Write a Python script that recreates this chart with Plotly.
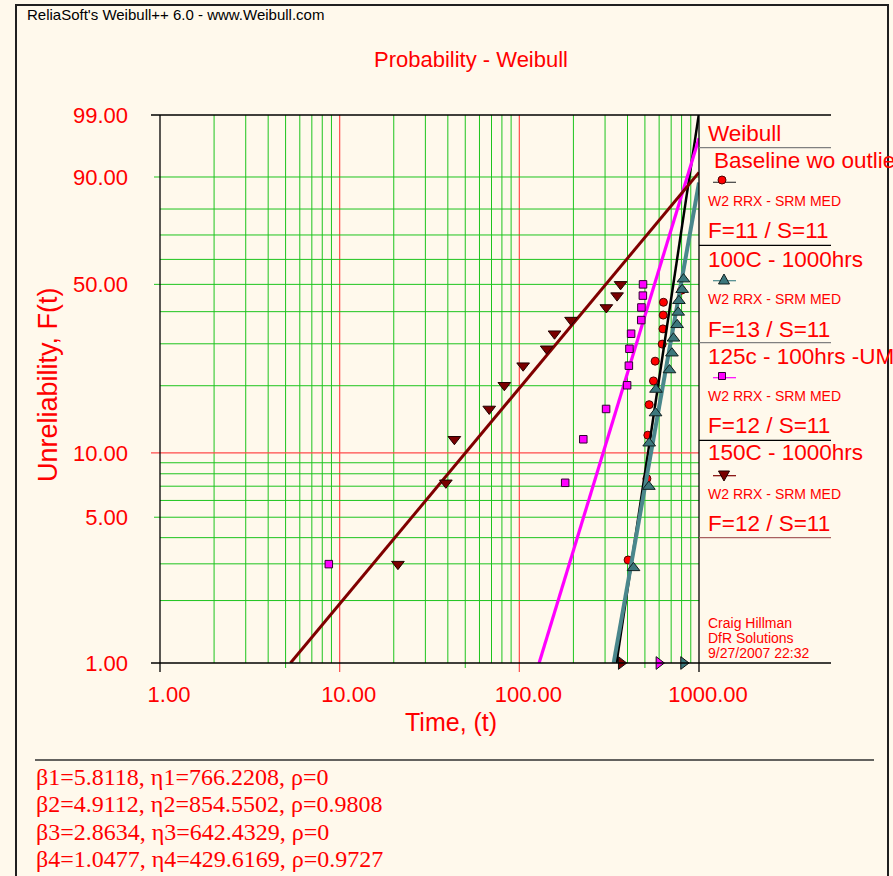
import math
import plotly.graph_objects as go

# ---------------- data ----------------
# Weibull fit parameters (one per data set) and correlation coefficients
betas = [5.8118, 4.9112, 2.8634, 1.0477]
etas = [766.2208, 854.5502, 642.4329, 429.6169]
rhos = [0, 0.9808, 0, 0.9727]

# failure times (hours) with their median-rank unreliability (%)
baseline_t = [403, 513, 519, 528, 558, 570, 624, 630, 632, 634, 800]
baseline_F = [3.13, 7.59, 12.05, 16.52, 20.98, 25.45, 29.91, 34.38, 38.84, 43.30, 47.77]

c100_t = [432, 526, 528, 573, 576, 685, 707, 721, 756, 766, 773, 806, 820]
c100_F = [2.87, 6.97, 11.07, 15.16, 19.26, 23.36, 27.46, 31.56, 35.66, 39.75, 43.85, 47.95, 52.05]

c125_t = [8.7, 180, 227, 304, 398, 407, 410, 419, 477, 478, 487, 488]
c125_F = [2.99, 7.26, 11.54, 15.81, 20.09, 24.36, 28.63, 32.91, 37.18, 41.45, 45.73, 50.00]

c150_t = [21.1, 39, 43.5, 68, 82.5, 105, 142, 157, 194, 305, 350, 366]
c150_F = [2.99, 7.26, 11.54, 15.81, 20.09, 24.36, 28.63, 32.91, 37.18, 41.45, 45.73, 50.00]

# suspension times (drawn on the 1% line): 100C, 125c, 150C
susp_t = [820, 598, 369]

# legend / annotation texts
set_titles = ["Baseline wo outliers", "100C - 1000hrs", "125c - 100hrs -UM", "150C - 1000hrs"]
set_subtitle = "W2 RRX - SRM MED"
set_counts = ["F=11 / S=11", "F=13 / S=11", "F=12 / S=11", "F=12 / S=11"]

# axis ticks and grid
x_tick_vals = [1, 10, 100, 1000]
x_tick_text = ["1.00", "10.00", "100.00", "1000.00"]
x_grid_green = [2, 3, 4, 5, 6, 7, 8, 9, 20, 30, 40, 50, 60, 70, 80, 90,
                200, 300, 400, 500, 600, 700, 800, 900]
x_grid_red = [10, 100]
x_short_ticks = [5, 50, 500]

y_tick_vals = [1, 5, 10, 50, 90, 99]
y_tick_text = ["1.00", "5.00", "10.00", "50.00", "90.00", "99.00"]
y_grid_green = [2, 3, 4, 5, 6, 7, 8, 9, 20, 30, 40, 50, 60, 70, 80, 90]
y_grid_red = [10]
y_short_ticks = [5, 50, 90]

# ---------------- styling ----------------
BG = "#FFF9EC"
RED = "#FF0000"
GREEN = "#1EC41E"
GRIDRED = "#FF4A4A"
TEAL_LINE = "#4A878C"
TEAL_FILL = "#3C777C"
MAGENTA = "#FF00FF"
DARKRED = "#800000"
SANS = "Liberation Sans, Arial, sans-serif"
SERIF = "Liberation Serif, Times New Roman, serif"

W_FIG, H_FIG = 893, 876
PL, PR, PT, PB = 160, 699, 115, 663  # plot area in pixels


def px(x):
    return (x - PL) / (PR - PL)


def py(y):
    return (PB - y) / (PB - PT)


def weib(f_pct):
    """Weibull probability scale: ln(-ln(1-F))."""
    return math.log(-math.log(1.0 - f_pct / 100.0))


W_LO, W_HI = weib(1), weib(99)


def fit_line(beta, eta):
    t_lo = eta * (-math.log(0.99)) ** (1.0 / beta)
    t_hi = min(1000.0, eta * (-math.log(0.01)) ** (1.0 / beta))
    ts = [t_lo, t_hi]
    return ts, [beta * math.log(t / eta) for t in ts]


fig = go.Figure()


def add_points(ts, fs, symbol, size, fill, edge):
    fig.add_trace(go.Scatter(
        x=ts, y=[weib(f) for f in fs], mode="markers", cliponaxis=False,
        marker=dict(symbol=symbol, size=size, color=fill, line=dict(color=edge, width=1)),
        showlegend=False, hoverinfo="skip"))


def add_fit(i, color, width):
    xs, ys = fit_line(betas[i], etas[i])
    fig.add_trace(go.Scatter(x=xs, y=ys, mode="lines", line=dict(color=color, width=width),
                             showlegend=False, hoverinfo="skip"))


add_points(baseline_t, baseline_F, "circle", 8, RED, "#500000")
add_fit(0, "#000000", 2.5)
add_fit(1, TEAL_LINE, 4)
add_points(c100_t, c100_F, "triangle-up", 11, TEAL_FILL, "#102020")
add_fit(2, MAGENTA, 3.2)
add_points(c125_t, c125_F, "square", 7.5, MAGENTA, "#300030")
add_fit(3, DARKRED, 3)
add_points(c150_t, c150_F, "triangle-down", 11, "#7A0000", "#200000")

# suspensions on the bottom line
for t, fill in zip(susp_t, [TEAL_FILL, MAGENTA, "#7A0000"]):
    fig.add_trace(go.Scatter(
        x=[t], y=[W_LO], mode="markers", cliponaxis=False,
        marker=dict(symbol="triangle-right", size=11, color=fill, line=dict(color="#101010", width=1)),
        showlegend=False, hoverinfo="skip"))

shapes = []


def seg(x0, y0, x1, y1, color, width=1, xref="paper", yref="paper", layer="below"):
    shapes.append(dict(type="line", xref=xref, yref=yref, x0=x0, y0=y0, x1=x1, y1=y1,
                       line=dict(color=color, width=width), layer=layer))


# vertical grid lines (data x, paper y)
for v in x_grid_green:
    ext = 5 if v in x_short_ticks else 0
    seg(v, -ext / (PB - PT), v, 1, GREEN, xref="x")
for v in x_grid_red:
    seg(v, -9 / (PB - PT), v, 1, GRIDRED, 1.2, xref="x")
# horizontal grid lines (paper x, data y)
for v in y_grid_green:
    ext = 6 if v in y_short_ticks else 0
    seg(-ext / (PR - PL), weib(v), 1, weib(v), GREEN, yref="y")
for v in y_grid_red:
    seg(-9 / (PR - PL), weib(v), 1, weib(v), GRIDRED, 1.2, yref="y")

# plot frame, extending into the legend column
seg(px(151), 1, px(831), 1, "#000000", 1.3, layer="above")
seg(px(151), 0, px(831), 0, "#000000", 1.3, layer="above")
seg(0, py(672), 0, 1, "#000000", 1.3, layer="above")
seg(1, py(672), 1, 1, "#000000", 1.3, layer="above")

# legend separators
for ysep, col in [(147.7, "#808080"), (245.3, "#000000"), (342.7, "#808080"),
                  (440.3, "#000000"), (537.7, "#A86060")]:
    seg(px(699), py(ysep), px(831), py(ysep), col, 1.3, layer="above")

# bottom separator above the parameter block
seg(px(35), py(760), px(874), py(760), "#303030", 1.3, layer="above")

# outer frame
shapes.append(dict(type="rect", xref="paper", yref="paper", x0=px(16), x1=px(888),
                   y0=py(890), y1=py(5), line=dict(color="#202020", width=2), layer="above"))

# legend symbols
def tri(cx, cy, up=True, hw=5.5, h=10, fill="#000", edge="#000"):
    if up:
        pts = [(cx - hw, cy + h / 2), (cx + hw, cy + h / 2), (cx, cy - h / 2)]
    else:
        pts = [(cx - hw, cy - h / 2), (cx + hw, cy - h / 2), (cx, cy + h / 2)]
    path = "M " + " L ".join(f"{px(a):.5f},{py(b):.5f}" for a, b in pts) + " Z"
    shapes.append(dict(type="path", xref="paper", yref="paper", path=path,
                       fillcolor=fill, line=dict(color=edge, width=1), layer="above"))


seg(px(713), py(182.3), px(736), py(182.3), "#404040", 1.2, layer="above")
shapes.append(dict(type="circle", xref="paper", yref="paper", x0=px(718), x1=px(726),
                   y0=py(184), y1=py(176), fillcolor=RED, line=dict(color="#500000", width=1),
                   layer="above"))
seg(px(713), py(280.7), px(736), py(280.7), TEAL_LINE, 1.2, layer="above")
tri(724, 279, True, fill=TEAL_FILL, edge="#102020")
seg(px(713), py(377.7), px(736), py(377.7), MAGENTA, 1.2, layer="above")
shapes.append(dict(type="rect", xref="paper", yref="paper", x0=px(718.5), x1=px(725.5),
                   y0=py(379.5), y1=py(372.5), fillcolor=MAGENTA, line=dict(color="#300030", width=1),
                   layer="above"))
seg(px(713), py(475.7), px(736), py(475.7), DARKRED, 1.2, layer="above")
tri(724, 476, False, fill="#7A0000", edge="#200000")

annotations = []


def text(x, y, s, size, color=RED, family=SANS, xanchor="left", angle=0):
    annotations.append(dict(xref="paper", yref="paper", x=px(x), y=py(y), text=s,
                            showarrow=False, xanchor=xanchor, yanchor="middle", textangle=angle,
                            font=dict(size=size, color=color, family=family)))


text(25, 15, "ReliaSoft's Weibull++ 6.0 - www.Weibull.com", 15, color="#000000")
text(471, 60, "Probability - Weibull", 22, xanchor="center")
text(48, 384, "Unreliability, F(t)", 27, xanchor="center", angle=-90)
text(451, 722, "Time, (t)", 25, xanchor="center")

text(706, 133.3, "Weibull", 22.5)
title_y = [160.7, 259, 356.7, 452.7]
sub_y = [200.7, 299, 395.7, 494]
count_y = [230.7, 329, 425, 523.3]
for i in range(4):
    text(712 if i == 0 else 706, title_y[i], set_titles[i], 22.5)
    text(706, sub_y[i], set_subtitle, 14)
    text(706, count_y[i], set_counts[i], 22.5)

for yy, s in zip([622.7, 637.7, 653.3], ["Craig Hillman", "DfR Solutions", "9/27/2007 22:32"]):
    text(706, yy, s, 14)

for i, yy in enumerate([776.7, 804, 831.7, 859]):
    n = i + 1
    text(34, yy, f"β{n}={betas[i]:.4f}, η{n}={etas[i]:.4f}, ρ={rhos[i]}", 24, family=SERIF)

fig.update_layout(
    width=W_FIG, height=H_FIG, autosize=False,
    margin=dict(l=PL, r=W_FIG - PR, t=PT, b=H_FIG - PB, pad=0),
    paper_bgcolor=BG, plot_bgcolor=BG,
    shapes=shapes, annotations=annotations,
    xaxis=dict(type="log", range=[0, 3], showgrid=False, zeroline=False, showline=False,
               ticks="", tickmode="array", tickvals=x_tick_vals, ticktext=x_tick_text,
               tickfont=dict(size=22, color=RED, family=SANS),
               ticklabelstandoff=16, ticklabelshift=9, fixedrange=True),
    yaxis=dict(range=[W_LO, W_HI], showgrid=False, zeroline=False, showline=False,
               ticks="", tickmode="array", tickvals=[weib(v) for v in y_tick_vals],
               ticktext=y_tick_text, tickfont=dict(size=22, color=RED, family=SANS),
               ticklabelstandoff=31, fixedrange=True),
)

fig.write_html("out.html", config={"displayModeBar": False})
